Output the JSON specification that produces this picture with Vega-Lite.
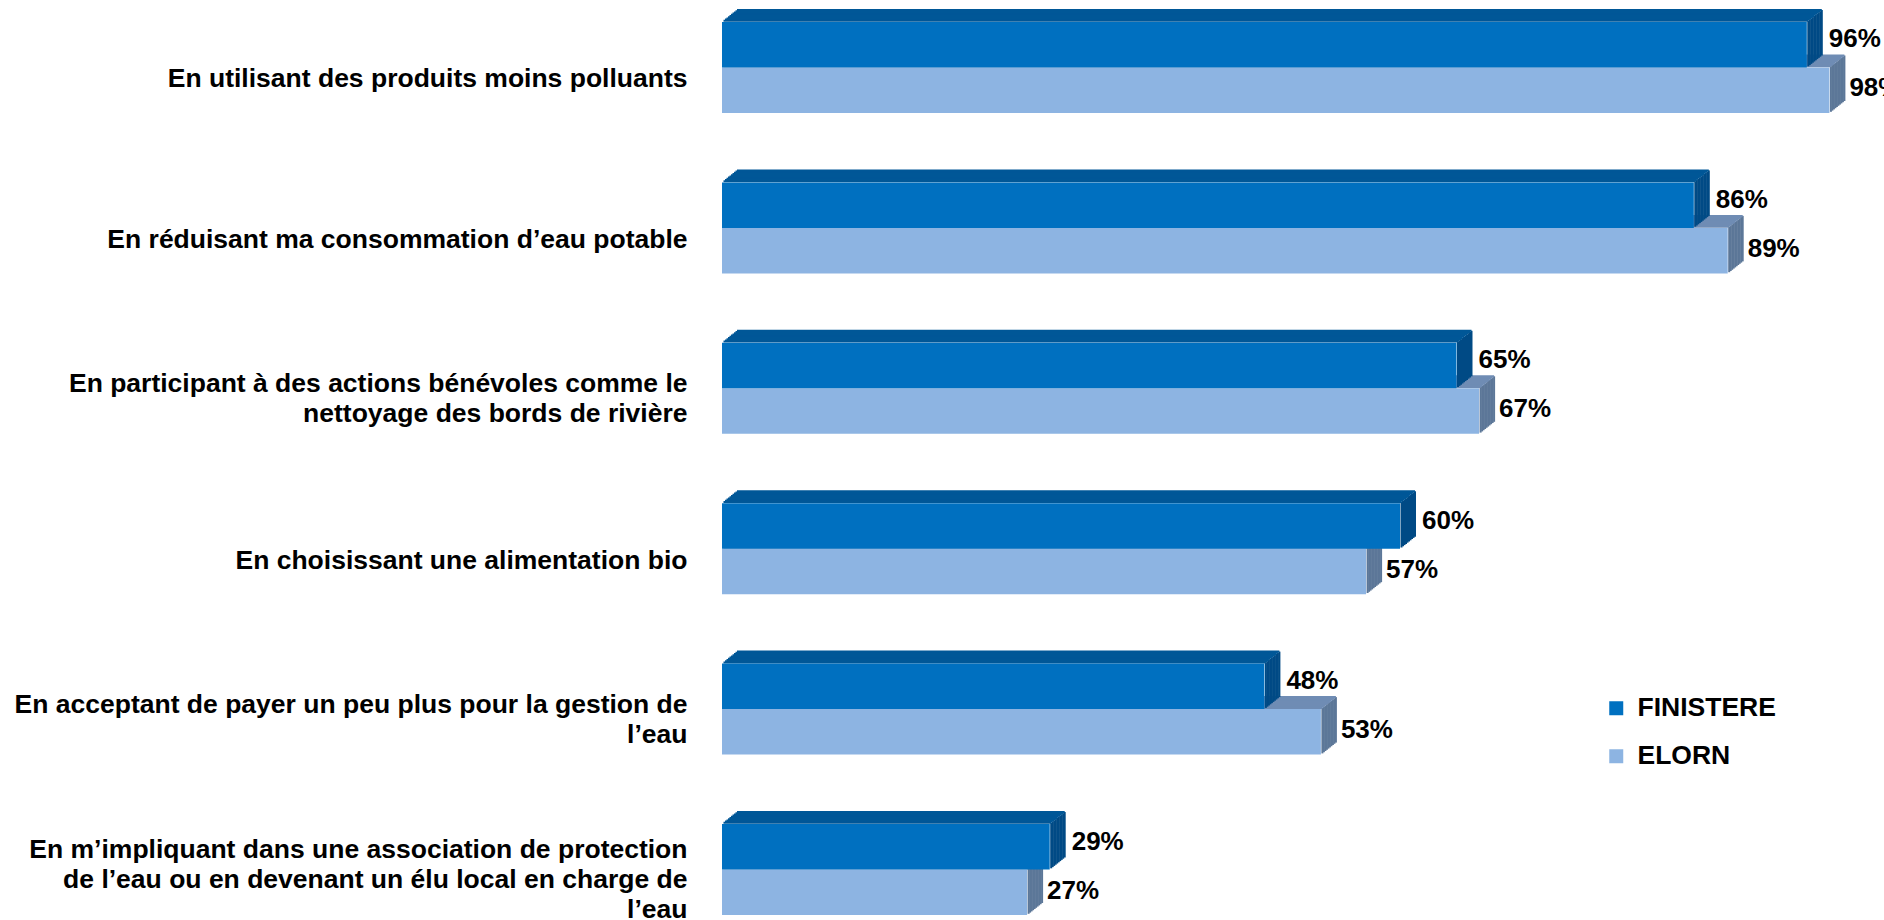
{
  "$schema": "https://vega.github.io/schema/vega-lite/v6.json",
  "width": 1130,
  "height": 893,
  "autosize": {"type": "none"},
  "padding": {"left": 722, "top": 22, "right": 32, "bottom": 5},
  "background": "white",
  "config": {"font": "Liberation Sans", "view": {"stroke": null}},
  "data": {"values": [
    {"cat": "En utilisant des produits moins polluants", "series": "FINISTERE", "value": 0.96},
    {"cat": "En utilisant des produits moins polluants", "series": "ELORN", "value": 0.98},
    {"cat": "En réduisant ma consommation d’eau potable", "series": "FINISTERE", "value": 0.86},
    {"cat": "En réduisant ma consommation d’eau potable", "series": "ELORN", "value": 0.89},
    {"cat": "En participant à des actions bénévoles comme le\nnettoyage des bords de rivière", "series": "FINISTERE", "value": 0.65},
    {"cat": "En participant à des actions bénévoles comme le\nnettoyage des bords de rivière", "series": "ELORN", "value": 0.67},
    {"cat": "En choisissant une alimentation bio", "series": "FINISTERE", "value": 0.60},
    {"cat": "En choisissant une alimentation bio", "series": "ELORN", "value": 0.57},
    {"cat": "En acceptant de payer un peu plus pour la gestion de\nl’eau", "series": "FINISTERE", "value": 0.48},
    {"cat": "En acceptant de payer un peu plus pour la gestion de\nl’eau", "series": "ELORN", "value": 0.53},
    {"cat": "En m’impliquant dans une association de protection\nde l’eau ou en devenant un élu local en charge de\nl’eau", "series": "FINISTERE", "value": 0.29},
    {"cat": "En m’impliquant dans une association de protection\nde l’eau ou en devenant un élu local en charge de\nl’eau", "series": "ELORN", "value": 0.27}
  ]},
  "encoding": {
    "y": {"field": "cat", "type": "nominal", "sort": null, "title": null,
      "scale": {"paddingInner": 0.4327, "paddingOuter": 0},
      "axis": {"domain": false, "ticks": false, "grid": false, "labelPadding": 35, "labelLimit": 900,
        "labelFontSize": 26.5, "labelFontWeight": "bold", "labelColor": "#000000", "labelAlign": "right",
        "labelBaseline": "middle", "labelLineHeight": 30,
        "labelOffset": {"expr": "12 - (length(split(datum.label, '\\n')) - 1) * 16"},
        "labelExpr": "split(datum.label, '\\n')"}}
  },
  "layer": [
    {"transform": [{"filter": "datum.series === 'ELORN'"}], "mark": {"type": "bar", "color": "#5C7798", "height": 45.5, "yOffset": 21.55, "xOffset": 0.5, "x2Offset": 2.5}, "encoding": {"x": {"field": "value", "type": "quantitative", "scale": {"domain": [0, 1], "nice": false}, "axis": null}, "x2": {"field": "value"}}},
    {"transform": [{"filter": "datum.series === 'ELORN'"}], "mark": {"type": "bar", "color": "#5C7798", "height": 45.5, "yOffset": 20.35, "xOffset": 2, "x2Offset": 4}, "encoding": {"x": {"field": "value", "type": "quantitative"}, "x2": {"field": "value"}}},
    {"transform": [{"filter": "datum.series === 'ELORN'"}], "mark": {"type": "bar", "color": "#5C7798", "height": 45.5, "yOffset": 19.15, "xOffset": 3.5, "x2Offset": 5.5}, "encoding": {"x": {"field": "value", "type": "quantitative"}, "x2": {"field": "value"}}},
    {"transform": [{"filter": "datum.series === 'ELORN'"}], "mark": {"type": "bar", "color": "#5C7798", "height": 45.5, "yOffset": 17.95, "xOffset": 5, "x2Offset": 7}, "encoding": {"x": {"field": "value", "type": "quantitative"}, "x2": {"field": "value"}}},
    {"transform": [{"filter": "datum.series === 'ELORN'"}], "mark": {"type": "bar", "color": "#5C7798", "height": 45.5, "yOffset": 16.75, "xOffset": 6.5, "x2Offset": 8.5}, "encoding": {"x": {"field": "value", "type": "quantitative"}, "x2": {"field": "value"}}},
    {"transform": [{"filter": "datum.series === 'ELORN'"}], "mark": {"type": "bar", "color": "#5C7798", "height": 45.5, "yOffset": 15.55, "xOffset": 8, "x2Offset": 10}, "encoding": {"x": {"field": "value", "type": "quantitative"}, "x2": {"field": "value"}}},
    {"transform": [{"filter": "datum.series === 'ELORN'"}], "mark": {"type": "bar", "color": "#5C7798", "height": 45.5, "yOffset": 14.35, "xOffset": 9.5, "x2Offset": 11.5}, "encoding": {"x": {"field": "value", "type": "quantitative"}, "x2": {"field": "value"}}},
    {"transform": [{"filter": "datum.series === 'ELORN'"}], "mark": {"type": "bar", "color": "#5C7798", "height": 45.5, "yOffset": 13.15, "xOffset": 11, "x2Offset": 13}, "encoding": {"x": {"field": "value", "type": "quantitative"}, "x2": {"field": "value"}}},
    {"transform": [{"filter": "datum.series === 'ELORN'"}], "mark": {"type": "bar", "color": "#5C7798", "height": 45.5, "yOffset": 11.95, "xOffset": 12.5, "x2Offset": 14.5}, "encoding": {"x": {"field": "value", "type": "quantitative"}, "x2": {"field": "value"}}},
    {"transform": [{"filter": "datum.series === 'ELORN'"}], "mark": {"type": "bar", "color": "#5C7798", "height": 45.5, "yOffset": 10.75, "xOffset": 14, "x2Offset": 16}, "encoding": {"x": {"field": "value", "type": "quantitative"}, "x2": {"field": "value"}}},

    {"transform": [{"filter": "datum.series === 'ELORN'"}], "mark": {"type": "bar", "color": "#6F8CB4", "height": 2, "yOffset": -1.2, "xOffset": 1.5, "x2Offset": 1.5}, "encoding": {"x": {"field": "value", "type": "quantitative"}, "x2": {"datum": 0}}},
    {"transform": [{"filter": "datum.series === 'ELORN'"}], "mark": {"type": "bar", "color": "#6F8CB4", "height": 2, "yOffset": -2.4, "xOffset": 3, "x2Offset": 3}, "encoding": {"x": {"field": "value", "type": "quantitative"}, "x2": {"datum": 0}}},
    {"transform": [{"filter": "datum.series === 'ELORN'"}], "mark": {"type": "bar", "color": "#6F8CB4", "height": 2, "yOffset": -3.6, "xOffset": 4.5, "x2Offset": 4.5}, "encoding": {"x": {"field": "value", "type": "quantitative"}, "x2": {"datum": 0}}},
    {"transform": [{"filter": "datum.series === 'ELORN'"}], "mark": {"type": "bar", "color": "#6F8CB4", "height": 2, "yOffset": -4.8, "xOffset": 6, "x2Offset": 6}, "encoding": {"x": {"field": "value", "type": "quantitative"}, "x2": {"datum": 0}}},
    {"transform": [{"filter": "datum.series === 'ELORN'"}], "mark": {"type": "bar", "color": "#6F8CB4", "height": 2, "yOffset": -6, "xOffset": 7.5, "x2Offset": 7.5}, "encoding": {"x": {"field": "value", "type": "quantitative"}, "x2": {"datum": 0}}},
    {"transform": [{"filter": "datum.series === 'ELORN'"}], "mark": {"type": "bar", "color": "#6F8CB4", "height": 2, "yOffset": -7.2, "xOffset": 9, "x2Offset": 9}, "encoding": {"x": {"field": "value", "type": "quantitative"}, "x2": {"datum": 0}}},
    {"transform": [{"filter": "datum.series === 'ELORN'"}], "mark": {"type": "bar", "color": "#6F8CB4", "height": 2, "yOffset": -8.4, "xOffset": 10.5, "x2Offset": 10.5}, "encoding": {"x": {"field": "value", "type": "quantitative"}, "x2": {"datum": 0}}},
    {"transform": [{"filter": "datum.series === 'ELORN'"}], "mark": {"type": "bar", "color": "#6F8CB4", "height": 2, "yOffset": -9.6, "xOffset": 12, "x2Offset": 12}, "encoding": {"x": {"field": "value", "type": "quantitative"}, "x2": {"datum": 0}}},
    {"transform": [{"filter": "datum.series === 'ELORN'"}], "mark": {"type": "bar", "color": "#6F8CB4", "height": 2, "yOffset": -10.8, "xOffset": 13.5, "x2Offset": 13.5}, "encoding": {"x": {"field": "value", "type": "quantitative"}, "x2": {"datum": 0}}},
    {"transform": [{"filter": "datum.series === 'ELORN'"}], "mark": {"type": "bar", "color": "#6F8CB4", "height": 2, "yOffset": -12, "xOffset": 15, "x2Offset": 15}, "encoding": {"x": {"field": "value", "type": "quantitative"}, "x2": {"datum": 0}}},

    {"transform": [{"filter": "datum.series === 'ELORN'"}], "mark": {"type": "bar", "height": 45.5, "yOffset": 22.75}, "encoding": {"x": {"field": "value", "type": "quantitative", "stack": null}, "color": {"field": "series", "type": "nominal", "scale": {"domain": ["FINISTERE", "ELORN"], "range": ["#0070C0", "#8DB4E2"]},
      "legend": {"title": null, "orient": "none", "legendX": 881, "legendY": 673, "padding": 0, "symbolType": "square", "symbolSize": 196, "symbolStrokeWidth": 0, "symbolOpacity": 1, "labelFontSize": 26.5, "labelFontWeight": "bold", "labelColor": "#000000", "labelOffset": 8, "rowPadding": 21, "labelLimit": 400}}}},

    {"transform": [{"filter": "datum.series === 'FINISTERE'"}], "mark": {"type": "bar", "color": "#004A85", "height": 45.5, "yOffset": -23.95, "xOffset": 0.5, "x2Offset": 2.5}, "encoding": {"x": {"field": "value", "type": "quantitative"}, "x2": {"field": "value"}}},
    {"transform": [{"filter": "datum.series === 'FINISTERE'"}], "mark": {"type": "bar", "color": "#004A85", "height": 45.5, "yOffset": -25.15, "xOffset": 2, "x2Offset": 4}, "encoding": {"x": {"field": "value", "type": "quantitative"}, "x2": {"field": "value"}}},
    {"transform": [{"filter": "datum.series === 'FINISTERE'"}], "mark": {"type": "bar", "color": "#004A85", "height": 45.5, "yOffset": -26.35, "xOffset": 3.5, "x2Offset": 5.5}, "encoding": {"x": {"field": "value", "type": "quantitative"}, "x2": {"field": "value"}}},
    {"transform": [{"filter": "datum.series === 'FINISTERE'"}], "mark": {"type": "bar", "color": "#004A85", "height": 45.5, "yOffset": -27.55, "xOffset": 5, "x2Offset": 7}, "encoding": {"x": {"field": "value", "type": "quantitative"}, "x2": {"field": "value"}}},
    {"transform": [{"filter": "datum.series === 'FINISTERE'"}], "mark": {"type": "bar", "color": "#004A85", "height": 45.5, "yOffset": -28.75, "xOffset": 6.5, "x2Offset": 8.5}, "encoding": {"x": {"field": "value", "type": "quantitative"}, "x2": {"field": "value"}}},
    {"transform": [{"filter": "datum.series === 'FINISTERE'"}], "mark": {"type": "bar", "color": "#004A85", "height": 45.5, "yOffset": -29.95, "xOffset": 8, "x2Offset": 10}, "encoding": {"x": {"field": "value", "type": "quantitative"}, "x2": {"field": "value"}}},
    {"transform": [{"filter": "datum.series === 'FINISTERE'"}], "mark": {"type": "bar", "color": "#004A85", "height": 45.5, "yOffset": -31.15, "xOffset": 9.5, "x2Offset": 11.5}, "encoding": {"x": {"field": "value", "type": "quantitative"}, "x2": {"field": "value"}}},
    {"transform": [{"filter": "datum.series === 'FINISTERE'"}], "mark": {"type": "bar", "color": "#004A85", "height": 45.5, "yOffset": -32.35, "xOffset": 11, "x2Offset": 13}, "encoding": {"x": {"field": "value", "type": "quantitative"}, "x2": {"field": "value"}}},
    {"transform": [{"filter": "datum.series === 'FINISTERE'"}], "mark": {"type": "bar", "color": "#004A85", "height": 45.5, "yOffset": -33.55, "xOffset": 12.5, "x2Offset": 14.5}, "encoding": {"x": {"field": "value", "type": "quantitative"}, "x2": {"field": "value"}}},
    {"transform": [{"filter": "datum.series === 'FINISTERE'"}], "mark": {"type": "bar", "color": "#004A85", "height": 45.5, "yOffset": -34.75, "xOffset": 14, "x2Offset": 16}, "encoding": {"x": {"field": "value", "type": "quantitative"}, "x2": {"field": "value"}}},

    {"transform": [{"filter": "datum.series === 'FINISTERE'"}], "mark": {"type": "bar", "color": "#005797", "height": 2, "yOffset": -46.7, "xOffset": 1.5, "x2Offset": 1.5}, "encoding": {"x": {"field": "value", "type": "quantitative"}, "x2": {"datum": 0}}},
    {"transform": [{"filter": "datum.series === 'FINISTERE'"}], "mark": {"type": "bar", "color": "#005797", "height": 2, "yOffset": -47.9, "xOffset": 3, "x2Offset": 3}, "encoding": {"x": {"field": "value", "type": "quantitative"}, "x2": {"datum": 0}}},
    {"transform": [{"filter": "datum.series === 'FINISTERE'"}], "mark": {"type": "bar", "color": "#005797", "height": 2, "yOffset": -49.1, "xOffset": 4.5, "x2Offset": 4.5}, "encoding": {"x": {"field": "value", "type": "quantitative"}, "x2": {"datum": 0}}},
    {"transform": [{"filter": "datum.series === 'FINISTERE'"}], "mark": {"type": "bar", "color": "#005797", "height": 2, "yOffset": -50.3, "xOffset": 6, "x2Offset": 6}, "encoding": {"x": {"field": "value", "type": "quantitative"}, "x2": {"datum": 0}}},
    {"transform": [{"filter": "datum.series === 'FINISTERE'"}], "mark": {"type": "bar", "color": "#005797", "height": 2, "yOffset": -51.5, "xOffset": 7.5, "x2Offset": 7.5}, "encoding": {"x": {"field": "value", "type": "quantitative"}, "x2": {"datum": 0}}},
    {"transform": [{"filter": "datum.series === 'FINISTERE'"}], "mark": {"type": "bar", "color": "#005797", "height": 2, "yOffset": -52.7, "xOffset": 9, "x2Offset": 9}, "encoding": {"x": {"field": "value", "type": "quantitative"}, "x2": {"datum": 0}}},
    {"transform": [{"filter": "datum.series === 'FINISTERE'"}], "mark": {"type": "bar", "color": "#005797", "height": 2, "yOffset": -53.9, "xOffset": 10.5, "x2Offset": 10.5}, "encoding": {"x": {"field": "value", "type": "quantitative"}, "x2": {"datum": 0}}},
    {"transform": [{"filter": "datum.series === 'FINISTERE'"}], "mark": {"type": "bar", "color": "#005797", "height": 2, "yOffset": -55.1, "xOffset": 12, "x2Offset": 12}, "encoding": {"x": {"field": "value", "type": "quantitative"}, "x2": {"datum": 0}}},
    {"transform": [{"filter": "datum.series === 'FINISTERE'"}], "mark": {"type": "bar", "color": "#005797", "height": 2, "yOffset": -56.3, "xOffset": 13.5, "x2Offset": 13.5}, "encoding": {"x": {"field": "value", "type": "quantitative"}, "x2": {"datum": 0}}},
    {"transform": [{"filter": "datum.series === 'FINISTERE'"}], "mark": {"type": "bar", "color": "#005797", "height": 2, "yOffset": -57.5, "xOffset": 15, "x2Offset": 15}, "encoding": {"x": {"field": "value", "type": "quantitative"}, "x2": {"datum": 0}}},

    {"transform": [{"filter": "datum.series === 'FINISTERE'"}], "mark": {"type": "bar", "height": 45.5, "yOffset": -22.75}, "encoding": {"x": {"field": "value", "type": "quantitative", "stack": null}, "color": {"field": "series", "type": "nominal"}}},

    {"transform": [{"filter": "datum.series === 'FINISTERE'"}], "mark": {"type": "text", "align": "left", "baseline": "middle", "dx": 22, "yOffset": -28, "fontSize": 26, "fontWeight": "bold", "color": "#000000"}, "encoding": {"x": {"field": "value", "type": "quantitative"}, "text": {"field": "value", "type": "quantitative", "format": ".0%"}}},
    {"transform": [{"filter": "datum.series === 'ELORN'"}], "mark": {"type": "text", "align": "left", "baseline": "middle", "dx": 20, "yOffset": 21, "fontSize": 26, "fontWeight": "bold", "color": "#000000"}, "encoding": {"x": {"field": "value", "type": "quantitative"}, "text": {"field": "value", "type": "quantitative", "format": ".0%"}}}
  ]
}
